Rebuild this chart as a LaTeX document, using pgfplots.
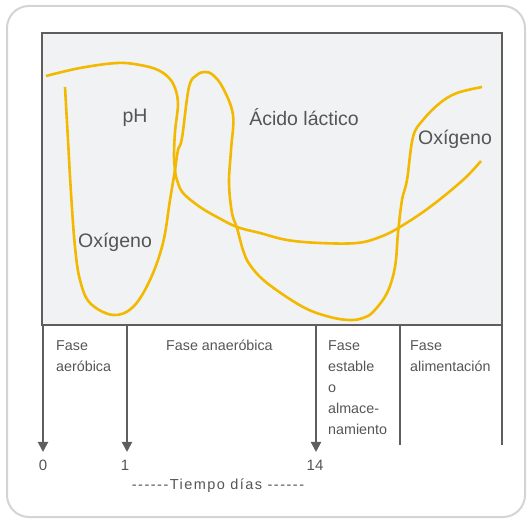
\documentclass[border=0pt]{standalone}
\usepackage{pgfplots}
\pgfplotsset{compat=1.18}
\usepackage{fontspec}
\setmainfont{Liberation Sans}
\usetikzlibrary{arrows.meta}
\definecolor{curve}{HTML}{F2B900}
\definecolor{frame}{HTML}{5E5E5E}
\definecolor{boxfill}{HTML}{F1F2F4}
\definecolor{txt}{HTML}{555555}
\definecolor{outer}{HTML}{D4D4D4}
\newcommand{\dsh}{\mbox{-}\kern1.5pt}
\begin{document}
\begin{tikzpicture}
\begin{axis}[
  scale only axis, width=528pt, height=521pt,
  xmin=0, xmax=528, ymin=0, ymax=521, y dir=reverse,
  hide axis, clip=false,
]
% outer rounded frame and inner box
\draw[outer, line width=2pt, rounded corners=22pt] (axis cs:7,6) rectangle (axis cs:525,517);
\draw[frame, line width=2.4pt, fill=boxfill] (axis cs:42,33) rectangle (axis cs:502,325);
% curves
\addplot[curve, line width=2.6pt, smooth, tension=0.6] coordinates {
(46,76) (80,68) (117,63) (140,65) (158,70) (170,79) (176,91) (178,104) (177,115)
(175,132) (174,155) (175,170) (177,180) (183,193) (200,207) (217,217) (237,227)
(260,233) (287,240) (320,243) (357,243) (380,237) (400,227) (430,207) (463,180) (481,161)};
\addplot[curve, line width=2.6pt, smooth, tension=0.6] coordinates {
(65,87) (68,140) (71,193) (75,247) (80,280) (90,303) (113,315) (133,307) (150,280)
(163,243) (170,200) (175,170) (178,150) (182,138) (189,87) (197,75) (205,72) (213,75)
(223,88) (233,115) (231,150) (229,183) (232,213) (237,228) (243,250) (250,265)
(267,283) (303,307) (330,317) (350,320) (363,318) (373,312) (387,293) (395,267)
(398,233) (402,200) (407,180) (413,137) (423,120) (440,103) (457,93) (482,87)};
% labels in plot
\node[txt, font=\fontsize{19.5}{22}\selectfont] at (axis cs:135,118) {pH};
\node[txt, font=\fontsize{19.5}{22}\selectfont] at (axis cs:304,117) {Ácido láctico};
\node[txt, font=\fontsize{19.5}{22}\selectfont] at (axis cs:115,242) {Oxígeno};
\node[txt, font=\fontsize{19.5}{22}\selectfont] at (axis cs:455,139) {Oxígeno};
% phase lines
\draw[frame, line width=2pt, -{Triangle[length=10pt,width=10pt]}] (axis cs:43,325) -- (axis cs:43,452);
\draw[frame, line width=2pt, -{Triangle[length=10pt,width=10pt]}] (axis cs:127,325) -- (axis cs:127,452);
\draw[frame, line width=2pt, -{Triangle[length=10pt,width=10pt]}] (axis cs:316,325) -- (axis cs:316,452);
\draw[frame, line width=2pt] (axis cs:400,325) -- (axis cs:400,445);
\draw[frame, line width=2pt] (axis cs:502,325) -- (axis cs:502,445);
% phase labels
\begin{scope}[every node/.style={txt, font=\fontsize{14.3}{21}\selectfont, align=left, anchor=north west, inner sep=0pt}]
\node at (axis cs:56,340) {Fase\\aeróbica};
\node at (axis cs:166,340) {Fase anaeróbica};
\node at (axis cs:328,340) {Fase\\estable\\o\\almace-\\namiento};
\node at (axis cs:410,340) {Fase\\alimentación};
\end{scope}
% time axis labels
\node[txt, font=\fontsize{15}{17}\selectfont] at (axis cs:43,465) {0};
\node[txt, font=\fontsize{15}{17}\selectfont] at (axis cs:125,465) {1};
\node[txt, font=\fontsize{15}{17}\selectfont] at (axis cs:315,465) {14};
\node[txt, font=\fontsize{14.5}{16}\selectfont\addfontfeatures{LetterSpace=10}] at (axis cs:218,486) {\dsh\dsh\dsh\dsh\dsh\dsh Tiempo días \dsh\dsh\dsh\dsh\dsh\mbox{-}};
\end{axis}
\pgfresetboundingbox
\path (current axis.south west) rectangle (current axis.north east);
\end{tikzpicture}
\end{document}
